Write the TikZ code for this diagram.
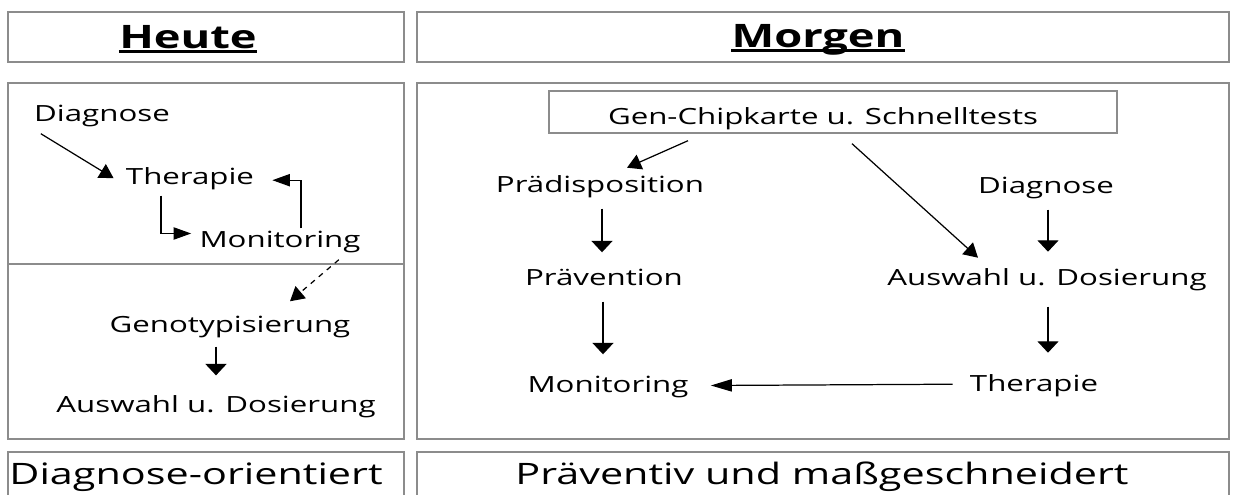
\documentclass[tikz,border=0pt]{standalone}
\usepackage{fontspec}
\setmainfont{Open Sans}[FakeStretch=1.40]
\usetikzlibrary{arrows.meta}

\tikzset{
  panel/.style={draw=black!45, line width=0.8pt},
  lbl/.style={inner sep=0pt, anchor=base, font=\fontsize{12.7}{15}\selectfont},
  head/.style={inner sep=0pt, anchor=base, font=\fontsize{18.4}{21}\selectfont\bfseries},
  foot/.style={inner sep=0pt, anchor=base, font=\fontsize{16.8}{20}\selectfont},
  arr/.style={line width=0.7pt, -{Triangle[length=8pt,width=9pt]}},
  varr/.style={line width=0.7pt, -{Triangle[length=6.5pt,width=12pt]}},
  harr/.style={line width=0.7pt, -{Triangle[length=12pt,width=7pt]}},
}

\begin{document}
\begin{tikzpicture}[x=0.02cm, y=-0.02cm]
    \useasboundingbox (0,0) rectangle (1234,494);
    \clip (0,0) rectangle (1234,494);

    % panels
    \draw[panel] (8,12) rectangle (404,62);
    \draw[panel] (417,12) rectangle (1229,62);
    \draw[panel] (8,83) rectangle (404,439);
    \draw[panel] (8,264) -- (404,264);
    \draw[panel] (417,83) rectangle (1229,439);
    \draw[panel] (8,452) rectangle (404,520);
    \draw[panel] (417,452) rectangle (1229,520);

    % headers
    \node[head] (heute) at (188,48) {Heute};
    \node[head] (morgen) at (818,47) {Morgen};
    \draw[line width=1.2pt] ([yshift=-2pt]heute.base west) -- ([yshift=-2pt]heute.base east);
    \draw[line width=1.2pt] ([yshift=-2pt]morgen.base west) -- ([yshift=-2pt]morgen.base east);

    % Heute
    \node[lbl] (dgL) at (102,121) {Diagnose};
    \node[lbl] (thL) at (190,184) {Therapie};
    \node[lbl] (moL) at (280,247) {Monitoring};
    \node[lbl] (geno) at (230,332) {Genotypisierung};
    \node[lbl] (awL) at (216,412) {Auswahl u. Dosierung};

    \draw[arr] ([shift={(7,7)}]dgL.south west) -- ([shift={(-12,0)}]thL.west);
    \draw[line width=0.7pt, -{Triangle[length=10pt,width=7pt]}]
        ([shift={(-29,6)}]thL.south) |- ([shift={(-8,-8)}]moL.west);
    \draw[line width=0.7pt, -{Triangle[length=10pt,width=7pt]}]
        ([shift={(21,-2)}]moL.north) |- ([shift={(18,2)}]thL.east);
    \draw[arr, dashed] ([shift={(-22,7)}]moL.south east) -- ([shift={(60,-14)}]geno.north);
    \draw[varr] ([yshift=-5pt]geno.south -| awL.north) -- ([yshift=11pt]awL.north);

    % Morgen
    \node[panel, minimum width=11.36cm, minimum height=0.84cm] (genbox) at (833,112) {};
    \node[lbl] (gen) at (823,124) {Gen-Chipkarte u. Schnelltests};
    \node[lbl] (pd) at (600,192) {Prädisposition};
    \node[lbl] (pv) at (604,285) {Prävention};
    \node[lbl] (moR) at (608,392) {Monitoring};
    \node[lbl] (dgR) at (1046,193) {Diagnose};
    \node[lbl] (awR) at (1047,285) {Auswahl u. Dosierung};
    \node[lbl] (thR) at (1034,391) {Therapie};

    \draw[arr] ([shift={(-145,7)}]genbox.south) -- ([shift={(27,-7)}]pd.north);
    \draw[arr] ([shift={(19,10)}]genbox.south) -- ([shift={(-69,-10)}]awR.north);
    \draw[varr] ([shift={(2,11)}]pd.south) -- ([shift={(-2,-16)}]pv.north);
    \draw[varr] ([shift={(-1,16)}]pv.south) -- ([shift={(-5,-21)}]moR.north);
    \draw[varr] ([shift={(2,11)}]dgR.south) -- ([shift={(1,-16)}]awR.north);
    \draw[varr] ([shift={(1,16)}]awR.south) -- ([shift={(14,-21)}]thR.north);
    \draw[harr] ([shift={(-17,-1)}]thR.west) -- ([shift={(22,-1)}]moR.east);

    % footers
    \node[foot] (dorient) at (196,484) {Diagnose-orientiert};
    \node[foot] (praev) at (822,484) {Präventiv und maßgeschneidert};
\end{tikzpicture}
\end{document}
